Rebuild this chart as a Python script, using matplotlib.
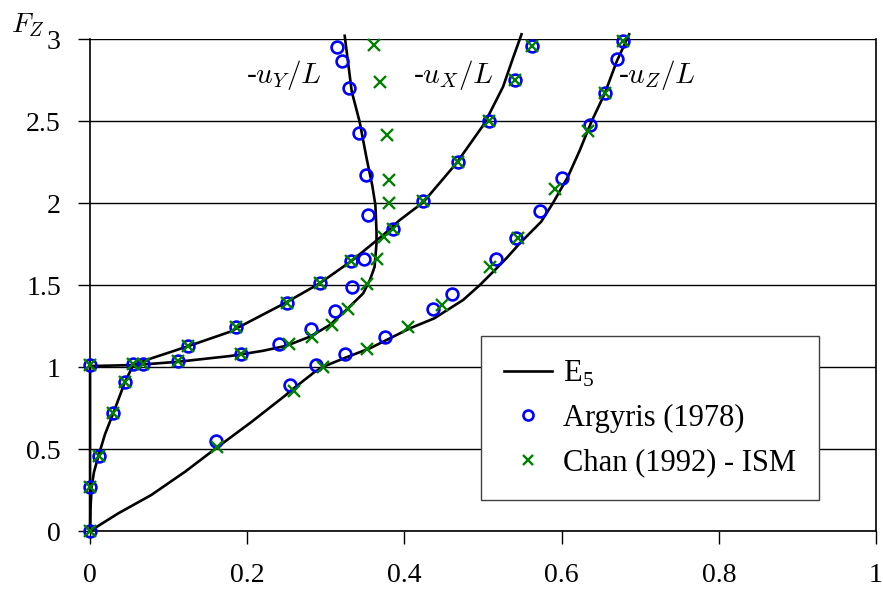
import matplotlib
matplotlib.use("Agg")
import matplotlib.pyplot as plt

# E5 solution curves
uX_line_x = [0, 0.0005, 0.002, 0.005, 0.0106, 0.019, 0.0297, 0.0445, 0.055, 0.078, 0.123, 0.178, 0.25,
             0.292, 0.333, 0.373, 0.394, 0.424, 0.466, 0.502, 0.5255, 0.538, 0.549]
uX_line_y = [0, 0.13, 0.27, 0.36, 0.457, 0.59, 0.721, 0.91, 1.012, 1.053, 1.124, 1.215, 1.395,
             1.51, 1.648, 1.805, 1.896, 2.005, 2.242, 2.486, 2.709, 2.882, 3.029]

uY_line_x = [0, 0, 0.055, 0.068, 0.1115, 0.178, 0.193, 0.22, 0.25, 0.2797, 0.305, 0.326, 0.3475,
             0.356, 0.362, 0.3645, 0.3645, 0.363, 0.359, 0.352, 0.343, 0.333, 0.324]
uY_line_y = [0, 1.006, 1.012, 1.016, 1.032, 1.067, 1.078, 1.099, 1.13, 1.185, 1.256, 1.348, 1.449,
             1.53, 1.61, 1.754, 1.825, 1.99, 2.11, 2.27, 2.496, 2.68, 3.02]

uZ_line_x = [0, 0.036, 0.078, 0.121, 0.16, 0.2056, 0.248, 0.2565, 0.286, 0.2967, 0.326, 0.356, 0.407,
             0.438, 0.4747, 0.496, 0.515, 0.5297, 0.5467, 0.574, 0.589, 0.608, 0.623, 0.638, 0.655, 0.670, 0.686]
uZ_line_y = [0, 0.108, 0.22, 0.362, 0.504, 0.666, 0.825, 0.86, 0.971, 1.002, 1.059, 1.114, 1.236,
             1.297, 1.409, 1.5, 1.591, 1.663, 1.754, 1.886, 2.0, 2.16, 2.32, 2.496, 2.669, 2.862, 3.029]

# Argyris (1978)
arg_uX_x = [0, 0, 0.011, 0.029, 0.044, 0.055, 0.124, 0.186, 0.25, 0.293, 0.332, 0.386, 0.424, 0.468, 0.507, 0.541, 0.562]
arg_uX_y = [0, 0.27, 0.457, 0.72, 0.909, 1.016, 1.128, 1.246, 1.392, 1.51, 1.648, 1.84, 2.012, 2.25, 2.502, 2.75, 2.957]
arg_uY_x = [0, 0.067, 0.112, 0.192, 0.241, 0.281, 0.312, 0.333, 0.348, 0.354, 0.351, 0.342, 0.330, 0.320, 0.3145]
arg_uY_y = [1.01, 1.016, 1.035, 1.079, 1.14, 1.234, 1.343, 1.486, 1.657, 1.929, 2.169, 2.428, 2.70, 2.864, 2.95]
arg_uZ_x = [0.160, 0.255, 0.287, 0.325, 0.375, 0.436, 0.461, 0.516, 0.542, 0.572, 0.600, 0.636, 0.655, 0.670, 0.678]
arg_uZ_y = [0.551, 0.892, 1.014, 1.079, 1.185, 1.355, 1.445, 1.66, 1.787, 1.953, 2.152, 2.474, 2.669, 2.88, 2.99]

# Chan (1992) - ISM
chan_uX_x = [0, 0, 0.011, 0.029, 0.044, 0.055, 0.124, 0.186, 0.25, 0.293, 0.332, 0.386, 0.424, 0.468, 0.507, 0.541, 0.562]
chan_uX_y = [0, 0.27, 0.457, 0.72, 0.909, 1.016, 1.128, 1.246, 1.392, 1.51, 1.648, 1.84, 2.012, 2.25, 2.502, 2.75, 2.957]
chan_uY_x = [0, 0.067, 0.112, 0.192, 0.253, 0.283, 0.308, 0.328, 0.352, 0.365, 0.374, 0.380, 0.381, 0.378, 0.369, 0.361]
chan_uY_y = [1.01, 1.016, 1.035, 1.079, 1.14, 1.185, 1.258, 1.352, 1.506, 1.657, 1.795, 2.002, 2.14, 2.413, 2.738, 2.961]
chan_uZ_x = [0.161, 0.259, 0.297, 0.353, 0.404, 0.448, 0.5086, 0.5445, 0.592, 0.634, 0.655, 0.678]
chan_uZ_y = [0.514, 0.856, 0.998, 1.112, 1.242, 1.376, 1.61, 1.784, 2.087, 2.441, 2.669, 2.99]

x_ticks = [0, 0.2, 0.4, 0.6, 0.8, 1]
x_ticklabels = ["0", "0.2", "0.4", "0.6", "0.8", "1"]
y_ticks = [0, 0.5, 1, 1.5, 2, 2.5, 3]
y_ticklabels = ["0", "0.5", "1", "1.5", "2", "2.5", "3"]

plt.rcParams['font.family'] = ['Liberation Serif', 'DejaVu Serif']
plt.rcParams['mathtext.fontset'] = 'cm'

fig = plt.figure(figsize=(8.83, 5.92), dpi=100)
ax = fig.add_axes([0.102, 0.103, 0.89, 0.831])

# horizontal grid lines
for yv in y_ticks:
    ax.axhline(yv, color='black', lw=1.0, zorder=1)

lw = 1.9
ax.plot(uX_line_x, uX_line_y, color='black', lw=lw, clip_on=False, zorder=3, label='E$_\\mathregular{5}$')
ax.plot(uY_line_x, uY_line_y, color='black', lw=lw, clip_on=False, zorder=3)
ax.plot(uZ_line_x, uZ_line_y, color='black', lw=lw, clip_on=False, zorder=3)

circ = dict(marker='o', ls='none', mfc='none', mec='#0000ff', ms=8.5, mew=1.9, zorder=4, clip_on=False)
cross = dict(marker='x', ls='none', color='#008000', ms=8, mew=1.7, zorder=5, clip_on=False)

ax.plot(arg_uX_x, arg_uX_y, label='Argyris (1978)', **circ)
ax.plot(arg_uY_x, arg_uY_y, **circ)
ax.plot(arg_uZ_x, arg_uZ_y, **circ)
ax.plot(chan_uX_x, chan_uX_y, label='Chan (1992) - ISM', **cross)
ax.plot(chan_uY_x, chan_uY_y, **cross)
ax.plot(chan_uZ_x, chan_uZ_y, **cross)

ax.set_xlim(0, 1)
ax.set_ylim(0, 3)
ax.set_xticks(x_ticks)
ax.set_xticklabels(x_ticklabels)
ax.set_yticks(y_ticks)
ax.set_yticklabels(y_ticklabels)
ax.tick_params(axis='both', direction='out', length=9, width=1.0, labelsize=20, color='black')
ax.tick_params(axis='x', pad=14)
ax.tick_params(axis='y', pad=12)
ax.spines['top'].set_visible(False)
for s in ['left', 'bottom', 'right']:
    ax.spines[s].set_linewidth(1.2)

ax.text(0.199, 2.78, '-$u_Y/L$', fontsize=21, ha='left', va='center')
ax.text(0.411, 2.78, '-$u_X/L$', fontsize=21, ha='left', va='center')
ax.text(0.672, 2.78, '-$u_Z/L$', fontsize=21, ha='left', va='center')
fig.text(0.012, 0.958, '$F_Z$', fontsize=20, ha='left', va='center')

leg = ax.legend(loc='upper left', bbox_to_anchor=(0.497, 0.397), borderaxespad=0,
                fontsize=22, frameon=True, fancybox=False, edgecolor='#404040',
                framealpha=1, markerscale=0.85, handlelength=1.6, handletextpad=0.35,
                borderpad=0.75, labelspacing=0.5)
leg.get_frame().set_linewidth(1.0)
leg.set_zorder(10)

fig.savefig('out.png', dpi=100)
